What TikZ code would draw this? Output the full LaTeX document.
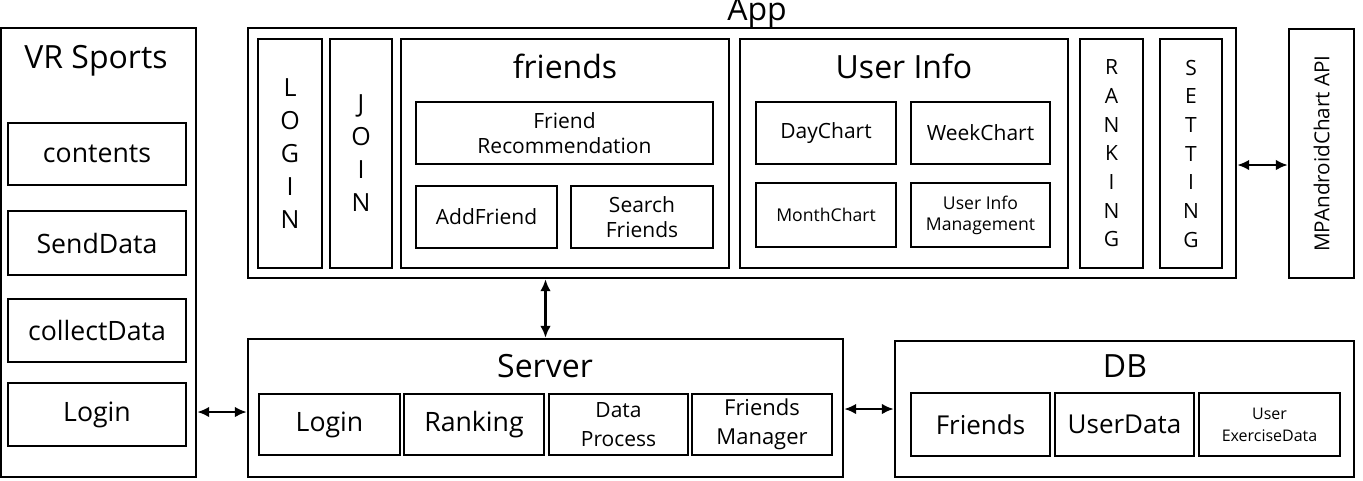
\documentclass[tikz,border=0pt]{standalone}
\usepackage{fontspec}
\setmainfont{Open Sans}
\usetikzlibrary{arrows.meta}
\newcommand\fs[2]{\fontsize{#1}{#2}\selectfont}
\tikzset{
 box/.style={draw, line width=1.8pt, inner sep=0pt, align=center},
 title/.style={anchor=base, inner sep=0pt, font=\fs{24}{28}},
 dar/.style={line width=1.8pt, {Latex[length=9pt,width=8pt]}-{Latex[length=9pt,width=8pt]}},
 big/.style={font=\fs{20}{23}},
 mid/.style={font=\fs{15.75}{18.75}},
 sml/.style={font=\fs{13.2}{15.75}},
 vlet/.style={font=\fs{18.75}{24.75}},
 vlets/.style={font=\fs{15.75}{21.5}},
}
\newcommand\bx[7][]{%
 \pgfmathsetmacro\bw{(#5-#3)*0.75}%
 \pgfmathsetmacro\bh{(#6-#4)*0.75}%
 \node[box,minimum width=\bw pt,minimum height=\bh pt,#1] (#2) at ({(#3+#5)/2},{(#4+#6)/2}) {#7};}
\begin{document}
\begin{tikzpicture}[x=0.75pt,y=-0.75pt]
\useasboundingbox (0,0) rectangle (1363,480);
% VR Sports
\bx{vr}{1}{28}{196}{477}{}
\node[title] (vrt) at (96,68) {VR Sports};
\bx[big]{vcont}{8}{123}{186}{185}{contents}
\bx[big]{vsend}{8}{211}{186}{275}{SendData}
\bx[big]{vcoll}{8}{299}{186}{362}{collectData}
\bx[big]{vlog}{8}{383}{186}{446}{Login}
% App
\bx{app}{248}{28}{1236}{278}{}
\node[title] (appt) at (757,20) {App};
\bx[vlet]{login}{258}{39}{322}{268}{L\\O\\G\\I\\N}
\bx[vlet]{join}{330}{39}{392}{268}{J\\O\\I\\N}
\bx{friends}{401}{39}{729}{268}{}
\node[title] (frt) at (565,78) {friends};
\bx[mid]{frec}{416}{102}{713}{164}{Friend\\Recommendation}
\bx[mid]{fadd}{416}{186}{557}{248}{AddFriend}
\bx[mid]{fsearch}{571}{186}{713}{248}{Search\\Friends}
\bx{uinfo}{740}{39}{1068}{268}{}
\node[title] (uit) at (904,78) {User Info};
\bx[mid]{day}{756}{102}{896}{164}{DayChart}
\bx[mid]{week}{911}{102}{1050}{164}{WeekChart}
\bx[sml]{month}{756}{183}{896}{247}{MonthChart}
\bx[sml]{uim}{911}{183}{1050}{247}{User Info\\Management}
\bx[vlets]{rank}{1080}{39}{1143}{268}{R\\A\\N\\K\\I\\N\\G}
\bx[vlets]{sett}{1160}{39}{1222}{268}{S\\E\\T\\T\\I\\N\\G}
\bx{mp}{1289}{29}{1354}{278}{}
\node[rotate=90, inner sep=0pt, font=\fs{15.5}{18}] (mpt) at (mp.center) {MPAndroidChart API};
% Server
\bx{server}{248}{339}{843}{477}{}
\node[title] (srvt) at (545,377) {Server};
\bx[big]{slog}{259}{394}{400}{455}{Login}
\bx[big]{srank}{404}{394}{544}{455}{Ranking}
\bx[font=\fs{15.75}{21.75}]{sdata}{549}{394}{688}{455}{Data\\Process}
\bx[font=\fs{16.5}{21.75}]{sfm}{692}{394}{832}{455}{Friends\\Manager}
% DB
\bx{db}{895}{341}{1354}{477}{}
\node[title] (dbt) at (1125,377) {DB};
\bx[font=\fs{19.5}{23}]{dfr}{911}{393}{1050}{456}{Friends}
\bx[font=\fs{19.5}{23}]{dud}{1055}{393}{1194}{456}{UserData}
\bx[font=\fs{12}{16.5}]{dued}{1199}{393}{1340}{456}{User\\ExerciseData}
% connectors
\coordinate (y1) at (0,412);
\coordinate (y2) at (0,409);
\coordinate (y3) at (0,165);
\draw[dar] (vr.east |- y1) -- (server.west |- y1);
\draw[dar] (app.south -| server.north) -- (server.north);
\draw[dar] (server.east |- y2) -- (db.west |- y2);
\draw[dar] (app.east |- y3) -- (mp.west |- y3);
\end{tikzpicture}
\end{document}
